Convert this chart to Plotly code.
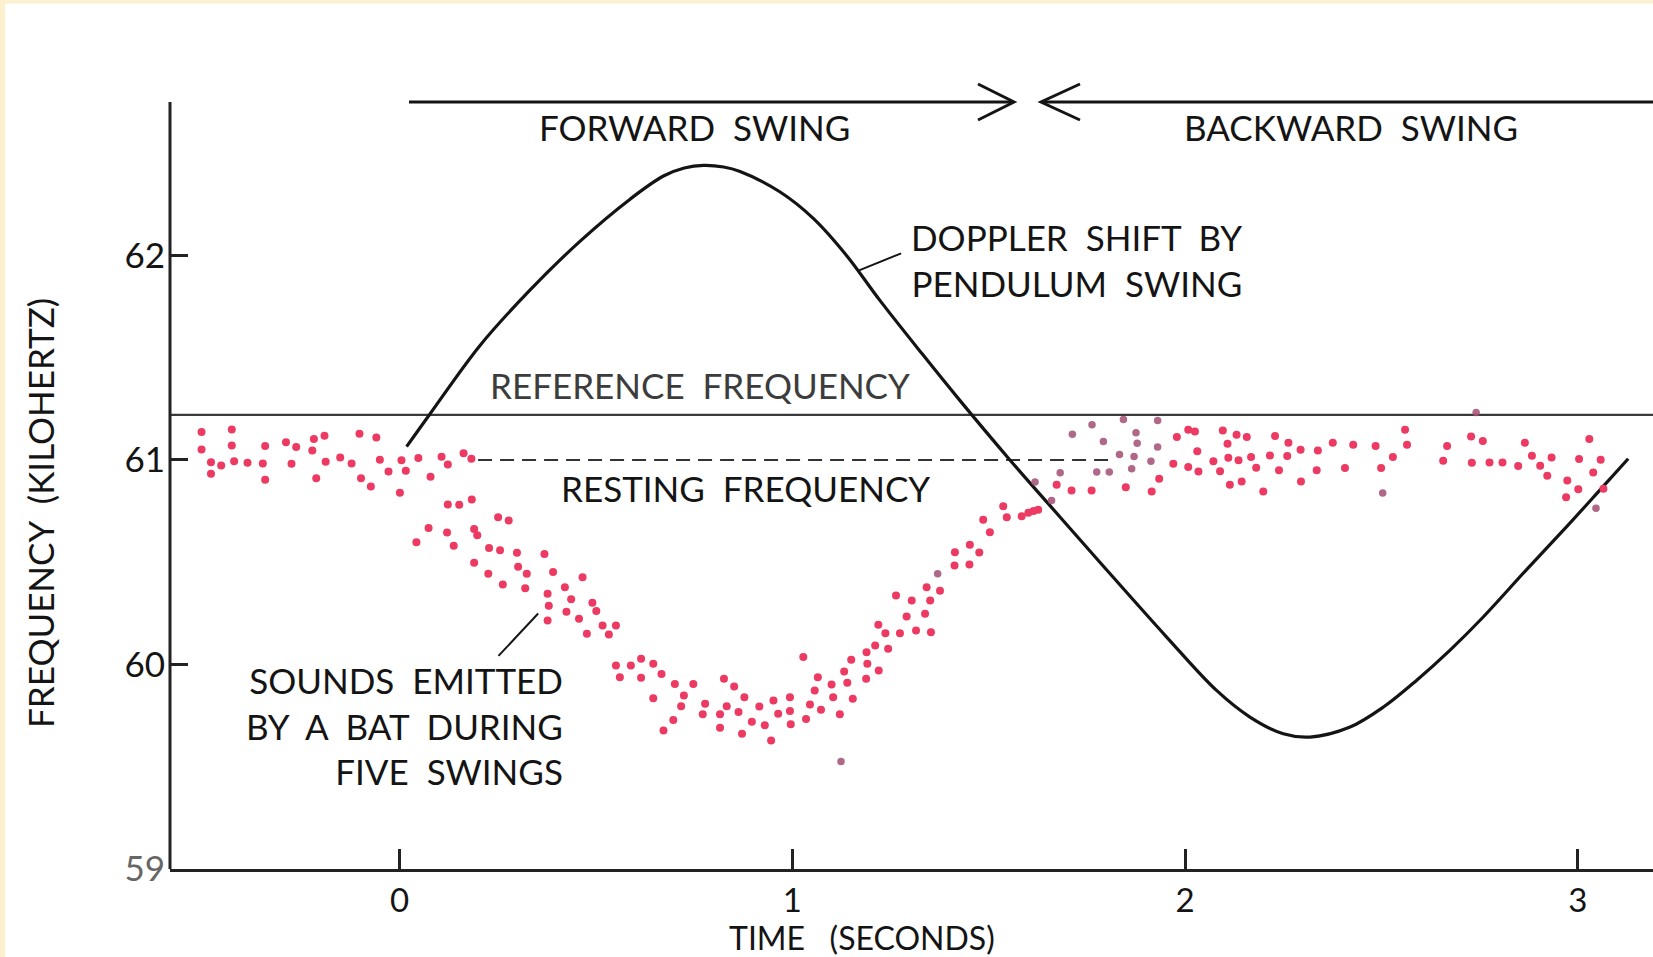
import plotly.graph_objects as go

# ---------------- data (time in s, frequency in kHz) ----------------
curve_t = [0.018, 0.078, 0.205, 0.332, 0.460, 0.587, 0.672, 0.725, 0.774, 0.825, 0.867, 0.969,
           1.054, 1.138, 1.223, 1.330, 1.427, 1.554, 1.682, 1.783, 1.953, 2.080, 2.165,
           2.250, 2.318, 2.420, 2.505, 2.589, 2.674, 2.759, 2.870, 2.972, 3.057, 3.128]
curve_f = [61.065, 61.226, 61.560, 61.830, 62.070, 62.275, 62.388, 62.427, 62.440, 62.432, 62.410, 62.310,
           62.180, 62.000, 61.780, 61.520, 61.290, 61.000, 60.720, 60.500, 60.134, 59.873, 59.743,
           59.661, 59.645, 59.694, 59.792, 59.922, 60.069, 60.232, 60.465, 60.675, 60.855, 61.006]

bat_t = [
    -0.504, -0.504, -0.480, -0.480, -0.454, -0.427, -0.427, -0.421, -0.387, -0.348,
    -0.342, -0.342, -0.289, -0.275, -0.263, -0.222, -0.218, -0.212, -0.191, -0.188,
    -0.151, -0.122, -0.102, -0.098, -0.073, -0.059, -0.050, -0.028, 0.001, 0.005,
    0.016, 0.048, 0.079, 0.107, 0.123, 0.163, 0.183,
    0.123, 0.152, 0.184, 0.251, 0.278, 0.074, 0.043, 0.121, 0.138, 0.190,
    0.198, 0.228, 0.256, 0.299, 0.369, 0.190, 0.226, 0.302, 0.324, 0.263,
    0.320, 0.391, 0.466, 0.421, 0.377, 0.437, 0.491, 0.501, 0.380, 0.425,
    0.377, 0.457, 0.477, 0.517, 0.551, 0.533,
    0.551, 0.589, 0.615, 0.646, 0.561, 0.615, 0.667, 0.701, 0.748, 0.646,
    0.724, 0.717, 0.697, 0.672, 0.778, 0.772, 0.816, 0.816, 0.826, 0.852,
    0.878, 0.833, 0.863, 0.872, 0.897, 0.916, 0.930, 0.946, 0.952, 0.964,
    0.994, 0.994, 0.996, 1.035, 1.045, 1.057, 1.065, 1.073, 1.100, 1.104,
    1.121, 1.132, 1.140, 1.154, 1.150, 1.189, 1.191, 1.188, 1.220, 1.211,
    1.244, 1.219, 1.237, 1.274, 1.264, 1.291, 1.304, 1.315, 1.338, 1.342,
    1.351, 1.353, 1.376, 1.413, 1.451, 1.028,
    1.414, 1.452, 1.476, 1.486, 1.503, 1.537, 1.546, 1.584, 1.601, 1.614,
    1.626, 1.673, 1.711, 1.762, 1.849, 1.915, 1.934, 1.970, 1.979, 2.008,
    2.008, 2.025, 2.031, 2.034, 2.072, 2.089, 2.096, 2.108, 2.110, 2.114,
    2.131, 2.136, 2.144, 2.157, 2.168, 2.181, 2.199, 2.216, 2.229, 2.239,
    2.260, 2.263, 2.294, 2.295, 2.335, 2.338, 2.376, 2.407, 2.428,
    2.485, 2.499, 2.529, 2.560, 2.565, 2.657, 2.667, 2.728, 2.730, 2.758,
    2.775, 2.808, 2.848, 2.865, 2.883, 2.904, 2.922, 2.933, 2.973, 2.970,
    3.001, 3.003, 3.029, 3.039, 3.058, 3.065,
]
bat_f = [
    61.136, 61.051, 60.989, 60.932, 60.973, 61.149, 61.071, 60.994, 60.986, 60.983,
    61.068, 60.903, 61.086, 60.981, 61.063, 61.046, 61.102, 60.911, 61.118, 60.991,
    61.012, 60.983, 61.128, 60.911, 60.870, 61.110, 61.001, 60.944, 60.839, 60.999,
    60.947, 61.009, 60.918, 61.015, 60.978, 61.033, 61.006,
    60.782, 60.781, 60.807, 60.720, 60.704, 60.667, 60.597, 60.645, 60.580, 60.662,
    60.632, 60.570, 60.559, 60.546, 60.540, 60.497, 60.443, 60.478, 60.443, 60.391,
    60.373, 60.452, 60.427, 60.378, 60.346, 60.319, 60.302, 60.262, 60.287, 60.258,
    60.215, 60.223, 60.150, 60.191, 60.191, 60.147,
    59.995, 59.995, 60.028, 60.003, 59.938, 59.935, 59.954, 59.905, 59.905, 59.835,
    59.848, 59.796, 59.729, 59.677, 59.808, 59.756, 59.756, 59.690, 59.930, 59.892,
    59.840, 59.796, 59.767, 59.661, 59.720, 59.795, 59.703, 59.628, 59.824, 59.759,
    59.840, 59.772, 59.708, 59.733, 59.804, 59.873, 59.938, 59.778, 59.902, 59.840,
    59.756, 59.966, 59.910, 59.832, 60.023, 60.060, 60.003, 59.930, 59.971, 60.093,
    60.077, 60.194, 60.153, 60.153, 60.337, 60.235, 60.313, 60.166, 60.248, 60.378,
    60.313, 60.158, 60.360, 60.484, 60.489, 60.036,
    60.549, 60.585, 60.548, 60.707, 60.647, 60.773, 60.720, 60.725, 60.742, 60.750,
    60.756, 60.879, 60.851, 60.851, 60.867, 60.846, 60.908, 60.981, 61.112, 60.965,
    61.148, 61.139, 61.042, 60.944, 60.994, 60.945, 61.144, 61.079, 61.011, 60.879,
    61.123, 60.998, 60.895, 61.112, 61.014, 60.962, 60.846, 61.022, 61.117, 60.949,
    61.019, 61.084, 61.050, 60.895, 60.949, 61.046, 61.084, 60.960, 61.074,
    61.068, 60.960, 61.014, 61.148, 61.074, 60.996, 61.068, 61.115, 60.986, 61.092,
    60.988, 60.988, 60.970, 61.084, 61.020, 60.971, 60.923, 61.012, 60.900, 60.818,
    60.857, 61.004, 61.102, 60.939, 61.001, 60.859,
]

# faint / darker dots (partly obscured in the print)
dim_t = [1.370, 1.124, 1.618, 1.660, 1.682, 1.713, 1.763, 1.775, 1.792, 1.807, 1.833,
         1.843, 1.864, 1.870, 1.875, 1.878, 1.913, 1.930, 1.930, 2.503, 3.046, 2.741]
dim_f = [60.443, 59.526, 60.892, 60.802, 60.937, 61.125, 61.172, 60.941, 61.090, 60.941, 61.027,
         61.198, 60.957, 61.017, 61.133, 61.082, 60.993, 61.193, 61.063, 60.838, 60.764, 61.232]

REF_FREQ = 61.22
REST_FREQ = 61.0
REST_SPAN = [0.20, 1.81]

x_ticks = [0, 1, 2, 3]
y_ticks = [59, 60, 61, 62]
y_ticktext = ["<span style='color:#666'>59</span>", "60", "61", "62"]

# ---------------- layout geometry ----------------
W, H = 1653, 957
ML, MR, MT, MB = 170, 0, 102, 88
X_RANGE = [-0.5843, 3.1912]
Y_RANGE = [59.0, 62.75]
PW, PH = W - ML - MR, H - MT - MB

FONT = "Lato, 'Open Sans', sans-serif"
INK = "#141414"
DOT = "#ec3a62"
DIM = "#a14d73"


def pxx(px):  # pixel x -> paper x
    return (px - ML) / PW


def pxy(py):  # pixel y -> paper y
    return (H - MB - py) / PH


fig = go.Figure()

fig.add_trace(go.Scatter(x=curve_t, y=curve_f, mode="lines",
                         line=dict(color=INK, width=3.2, shape="spline", smoothing=1.0),
                         hoverinfo="skip", showlegend=False))
fig.add_trace(go.Scatter(x=bat_t, y=bat_f, mode="markers",
                         marker=dict(color=DOT, size=8, line=dict(width=0)),
                         showlegend=False))
fig.add_trace(go.Scatter(x=dim_t, y=dim_f, mode="markers",
                         marker=dict(color=DIM, size=7.5, opacity=0.85, line=dict(width=0)),
                         showlegend=False))

shapes = []
# reference & resting frequency lines
shapes.append(dict(type="line", xref="x", yref="y", x0=X_RANGE[0], x1=X_RANGE[1],
                   y0=REF_FREQ, y1=REF_FREQ, line=dict(color="#3a3a3a", width=2.2), layer="below"))
shapes.append(dict(type="line", xref="x", yref="y", x0=REST_SPAN[0], x1=REST_SPAN[1],
                   y0=REST_FREQ, y1=REST_FREQ, line=dict(color="#333", width=2, dash="14px,8px"),
                   layer="below"))
# pointer lines
shapes.append(dict(type="line", xref="x", yref="y", x0=1.170, y0=61.927, x1=1.277, y1=62.010,
                   line=dict(color=INK, width=2)))
shapes.append(dict(type="line", xref="x", yref="y", x0=0.252, y0=60.042, x1=0.353, y1=60.249,
                   line=dict(color=INK, width=2)))
# y axis line (so it stops exactly at the swing arrows)
shapes.append(dict(type="line", xref="paper", yref="paper", x0=0, x1=0, y0=0, y1=1,
                   line=dict(color="#222", width=3)))
# swing arrows at the top
ay = pxy(102)
shapes.append(dict(type="line", xref="paper", yref="paper", x0=pxx(409), x1=pxx(1013), y0=ay, y1=ay,
                   line=dict(color=INK, width=3)))
shapes.append(dict(type="path", xref="paper", yref="paper",
                   path=f"M {pxx(978)},{pxy(84)} L {pxx(1014)},{ay} L {pxx(978)},{pxy(120)}",
                   line=dict(color=INK, width=3)))
shapes.append(dict(type="line", xref="paper", yref="paper", x0=pxx(1042), x1=pxx(1653), y0=ay, y1=ay,
                   line=dict(color=INK, width=3)))
shapes.append(dict(type="path", xref="paper", yref="paper",
                   path=f"M {pxx(1080)},{pxy(84)} L {pxx(1041)},{ay} L {pxx(1080)},{pxy(120)}",
                   line=dict(color=INK, width=3)))
# cream page edge
shapes.append(dict(type="rect", xref="paper", yref="paper", x0=pxx(0), x1=pxx(W), y0=pxy(0), y1=pxy(3.5),
                   fillcolor="#fdf0cf", line=dict(width=0)))
shapes.append(dict(type="rect", xref="paper", yref="paper", x0=pxx(0), x1=pxx(5), y0=pxy(0), y1=pxy(H),
                   fillcolor="#fdf0cf", line=dict(width=0)))

tf = dict(family=FONT, size=35, color=INK)
C = dict(xanchor="center", yanchor="middle", showarrow=False)
R = dict(xanchor="right", yanchor="middle", align="right", showarrow=False)
annotations = [
    dict(text="FORWARD  SWING", x=0.750, y=62.626, xref="x", yref="y", font=tf, **C),
    dict(text="BACKWARD  SWING", x=2.422, y=62.626, xref="x", yref="y", font=tf, **C),
    dict(text="DOPPLER  SHIFT  BY<br>PENDULUM  SWING", x=2.150, y=61.976, xref="x", yref="y",
         font=tf, **R),
    dict(text="REFERENCE  FREQUENCY", x=0.765, y=61.364, xref="x", yref="y",
         font=dict(family=FONT, size=35, color="#3c3c3c"), **C),
    dict(text="RESTING  FREQUENCY", x=0.880, y=60.861, xref="x", yref="y", font=tf, **C),
    dict(text="SOUNDS  EMITTED<br>BY  A  BAT  DURING<br>FIVE  SWINGS", x=0.421, y=59.702,
         xref="x", yref="y", font=tf, **R),
    dict(text="FREQUENCY  (KILOHERTZ)", x=pxx(40), y=pxy(513), xref="paper", yref="paper",
         textangle=-90, font=tf, **C),
    dict(text="TIME   (SECONDS)", x=pxx(862), y=pxy(937.8), xref="paper", yref="paper",
         font=dict(family=FONT, size=32, color=INK), **C),
]

fig.update_layout(
    width=W, height=H,
    margin=dict(l=ML, r=MR, t=MT, b=MB),
    paper_bgcolor="white", plot_bgcolor="white",
    showlegend=False,
    shapes=shapes, annotations=annotations,
    font=dict(family=FONT, color=INK),
    xaxis=dict(range=X_RANGE, tickmode="array", tickvals=x_ticks, ticks="inside", ticklen=20,
               tickwidth=2.5, tickcolor="#222", showline=True, linecolor="#222", linewidth=3,
               showgrid=False, zeroline=False, tickfont=dict(family=FONT, size=33, color=INK),
               ticklabelstandoff=0),
    yaxis=dict(range=Y_RANGE, tickmode="array", tickvals=y_ticks, ticktext=y_ticktext,
               ticks="inside", ticklen=18, tickwidth=2.5, tickcolor="#222", showline=False,
               showgrid=False, zeroline=False, tickfont=dict(family=FONT, size=35, color=INK),
               ticklabelstandoff=4),
)

fig.write_html("out.html")
